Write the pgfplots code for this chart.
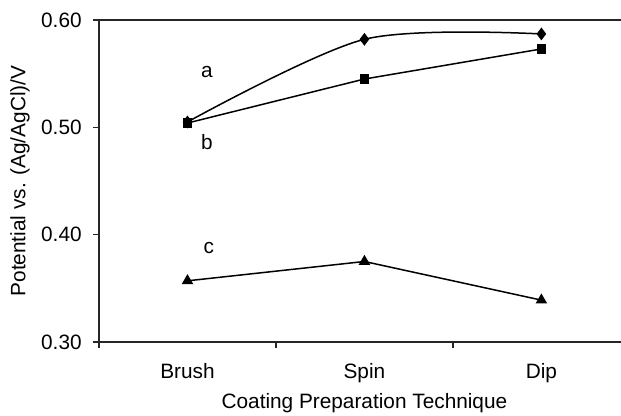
\documentclass[border=0pt]{standalone}
\usepackage{pgfplots}
\pgfplotsset{compat=1.18}
\usepackage{fontspec}
\setmainfont{Liberation Sans}

\begin{document}
\fontsize{10.4}{12.5}\selectfont
\begin{tikzpicture}
\begin{axis}[
  scale only axis,
  width=261pt, height=161pt,
  xmin=0, xmax=2.95,
  ymin=0.30, ymax=0.60,
  axis x line=box,
  axis y line=left,
  axis line style={-, line width=1pt, black!85},
  tick style={line width=0.8pt, black!85},
  tick align=outside,
  major tick length=3pt,
  xtick pos=bottom,
  ytick pos=left,
  xtick={0,1,2},
  xticklabels={},
  extra x ticks={0.5,1.5,2.5},
  extra x tick labels={Brush,Spin,Dip},
  extra x tick style={major tick length=0pt, tick label style={yshift=-7pt}},
  ytick={0.30,0.40,0.50,0.60},
  yticklabel style={/pgf/number format/.cd, fixed, fixed zerofill, precision=2, /tikz/.cd, xshift=-2pt},
  /pgf/number format/assume math mode=true,
  xlabel={Coating Preparation Technique},
  ylabel={Potential vs. (Ag/AgCl)/V},
  xlabel style={at={(axis description cs:0.5085,0)}, anchor=center, yshift=-30.5pt},
  ylabel style={at={(axis description cs:0,0.5)}, anchor=center, yshift=39.5pt},
  clip=false,
]
\coordinate (sw) at (rel axis cs:0,0);
\coordinate (ne) at (rel axis cs:1,1);

% a: smoothed series with diamonds
\addplot[black, line width=0.75pt, smooth, tension=0.5, mark=diamond*, mark size=2.6pt,
  mark options={solid}] coordinates {(0.5,0.505) (1.5,0.582) (2.5,0.587)};
% b: squares
\addplot[black, line width=0.75pt, mark=square*, mark size=2pt] coordinates {(0.5,0.504) (1.5,0.545) (2.5,0.573)};
% c: triangles
\addplot[black, line width=0.75pt, mark=triangle*, mark size=2.6pt] coordinates {(0.5,0.357) (1.5,0.375) (2.5,0.339)};

\node at (axis cs:0.61,0.5515) {a};
\node at (axis cs:0.61,0.486) {b};
\node at (axis cs:0.62,0.388) {c};
\end{axis}
\pgfresetboundingbox
\path ([shift={(-49.5pt,-37pt)}]sw) rectangle ([shift={(0pt,10pt)}]ne);
\end{tikzpicture}
\end{document}
